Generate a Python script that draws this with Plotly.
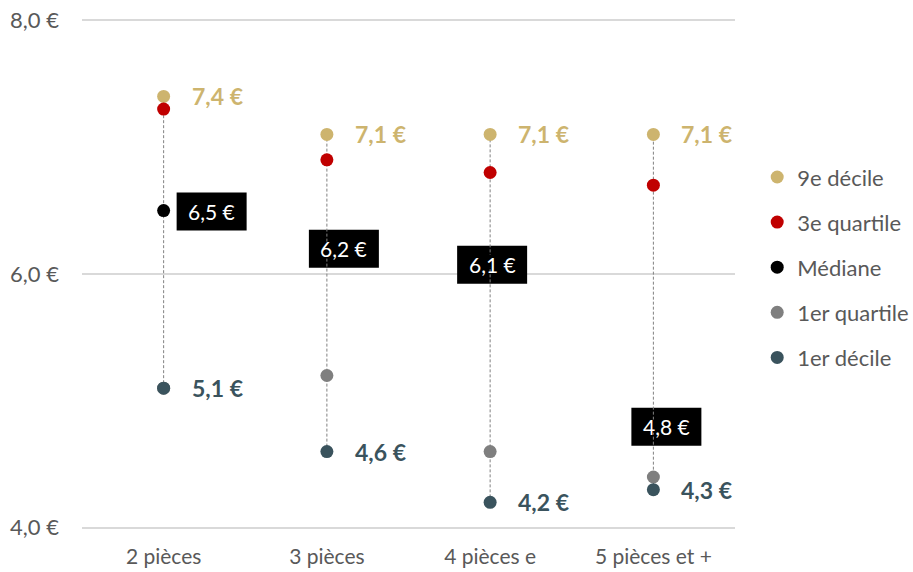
import plotly.graph_objects as go

# Loyers au m² par taille de logement : déciles et quartiles
categories = ["2 pièces", "3 pièces", "4 pièces e", "5 pièces et +"]
decile9 = [7.4, 7.1, 7.1, 7.1]
quartile3 = [7.3, 6.9, 6.8, 6.7]
mediane = [6.5, 6.2, 6.1, 4.8]
quartile1 = [5.1, 5.2, 4.6, 4.4]
decile1 = [5.1, 4.6, 4.2, 4.3]

y_ticks = [4, 6, 8]
y_tick_labels = ["4,0 €", "6,0 €", "8,0 €"]

# pixel offsets (right, down) of the median label boxes
median_label_dx = [48, 17, 2, 13]
median_label_dy = [1, 0, 3.5, 0.5]

xpos = list(range(len(categories)))


def eur(v):
    return f"{v:.1f}".replace(".", ",") + " €"


C_D9 = "#CDB46E"
C_Q3 = "#C00000"
C_MED = "#000000"
C_Q1 = "#7F7F7F"
C_D1 = "#3A535D"
FONT = "Lato, 'Open Sans', sans-serif"
GREY_TXT = "#595959"

fig = go.Figure()

# dashed range line from 1st to 9th decile
lx, ly = [], []
for i in xpos:
    lx += [i, i, None]
    ly += [decile1[i], decile9[i], None]
fig.add_trace(go.Scatter(
    x=lx, y=ly, mode="lines", showlegend=False, hoverinfo="skip",
    line=dict(color="#808080", width=1, dash="3px,2px"),
))

series = [
    ("9e décile", decile9, C_D9),
    ("3e quartile", quartile3, C_Q3),
    ("Médiane", mediane, C_MED),
    ("1er quartile", quartile1, C_Q1),
    ("1er décile", decile1, C_D1),
]
for name, vals, col in series:
    fig.add_trace(go.Scatter(
        x=xpos, y=vals, mode="markers", name=name, legendgroup=name,
        marker=dict(color=col, size=13, line=dict(width=0)),
    ))

annotations = []
shapes = []

# value labels for the 9th and 1st deciles
for vals, col in [(decile9, C_D9), (decile1, C_D1)]:
    for i in xpos:
        annotations.append(dict(
            x=i, y=vals[i], xref="x", yref="y", text=eur(vals[i]),
            showarrow=False, xanchor="left", yanchor="middle", xshift=26,
            font=dict(family=FONT, size=23, color=col, weight="bold"),
        ))

# median labels: black box with white text
bw, bh = 70, 38
for i in xpos:
    dx, dy = median_label_dx[i], median_label_dy[i]
    shapes.append(dict(
        type="rect", xref="x", yref="y", layer="between",
        xsizemode="pixel", ysizemode="pixel",
        xanchor=i, yanchor=mediane[i],
        x0=dx - bw / 2, x1=dx + bw / 2,
        y0=-dy - bh / 2, y1=-dy + bh / 2,
        fillcolor="#000000", line=dict(width=0),
    ))
    annotations.append(dict(
        x=i, y=mediane[i], xref="x", yref="y", text=eur(mediane[i]),
        showarrow=False, xanchor="center", yanchor="middle",
        xshift=dx, yshift=-dy,
        font=dict(family=FONT, size=21, color="#FFFFFF"),
    ))

fig.update_layout(
    width=913, height=572,
    margin=dict(l=82, r=178, t=19, b=43, autoexpand=False),
    plot_bgcolor="#FFFFFF", paper_bgcolor="#FFFFFF",
    font=dict(family=FONT, size=21, color=GREY_TXT),
    showlegend=True,
    legend=dict(
        x=1.034, y=0.731, xanchor="left", yanchor="top",
        font=dict(family=FONT, size=22, color=GREY_TXT),
        tracegroupgap=13.5, bgcolor="rgba(0,0,0,0)",
    ),
    shapes=shapes,
    annotations=annotations,
)
fig.update_xaxes(
    range=[-0.5, 3.5], tickvals=xpos, ticktext=categories,
    showgrid=False, zeroline=False, showline=False, ticks="",
    ticklabelstandoff=13, automargin=False,
    tickfont=dict(family=FONT, size=21, color=GREY_TXT),
)
fig.update_yaxes(
    range=[3.99, 8.01], tickvals=y_ticks, ticktext=y_tick_labels,
    showgrid=True, gridcolor="#D9D9D9", gridwidth=1.5,
    zeroline=False, showline=False, ticks="",
    ticklabelstandoff=22, automargin=False,
    tickfont=dict(family=FONT, size=22, color=GREY_TXT),
)

fig.write_html("out.html")
